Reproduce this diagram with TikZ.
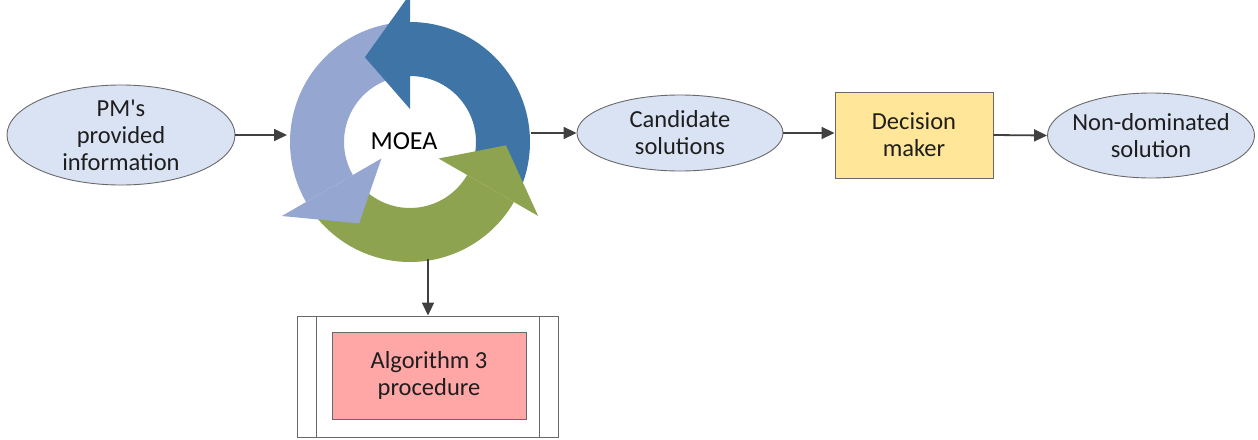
\documentclass[tikz,border=0pt]{standalone}
\usepackage{fontspec}
\setmainfont{Carlito}
\newfontfamily\aposfont{Carlito}[Ligatures=TeXOff]
\usetikzlibrary{arrows.meta,shapes.geometric,calc}
\definecolor{ovalfill}{RGB}{218,227,243}
\definecolor{edgegray}{RGB}{105,105,105}
\definecolor{linegray}{RGB}{64,64,64}
\definecolor{textgray}{RGB}{30,30,30}
\definecolor{dmfill}{RGB}{255,230,153}
\definecolor{algfill}{RGB}{255,166,166}
\definecolor{cycdark}{RGB}{62,116,166}
\definecolor{cyclight}{RGB}{149,166,209}
\definecolor{cycgreen}{RGB}{142,163,80}

\begin{document}
\begin{tikzpicture}[x=1pt,y=-1pt,
  label font/.style={font=\fontsize{24.5}{27}\selectfont, text=textgray},
  oval/.style={ellipse, draw=edgegray, line width=0.9pt, fill=ovalfill,
    inner xsep=-30pt, inner ysep=0pt, align=center, label font},
  boxnode/.style={rectangle, draw=edgegray, line width=0.9pt,
    inner sep=0pt, align=center, label font},
  conn/.style={draw=linegray, line width=1.8pt,
    -{Triangle[length=13pt,width=12pt]}}
]
\useasboundingbox (0,0) rectangle (1258,439);

% ---- cycle of three curved arrows (bodies first, heads on top)
\def\Rout{120pt}
\def\Rin{66pt}
\begin{scope}[shift={(410,142)}]
  \foreach \c/\b in {cycdark/90, cyclight/210, cycgreen/330}{
    \pgfmathsetmacro{\t}{\b-113}
    \fill[\c] (\t:\Rout) arc[start angle=\t, end angle=\b, radius=\Rout]
      -- (\b:\Rin) arc[start angle=\b, end angle=\t, radius=\Rin] -- cycle;
  }
  \foreach \c/\b in {cycdark/90, cyclight/210, cycgreen/330}{
    \pgfmathsetmacro{\h}{\b+28}
    \fill[\c] (\b:148pt) -- (\h:96pt) -- (\b:33pt) -- cycle;
  }
\end{scope}
\node[font=\fontsize{26}{30}\selectfont, text=black] (moea) at (404,141) {MOEA};

\coordinate (cycIn)  at (287,135);
\coordinate (cycOut) at (531,133);
\coordinate (cycBot) at (428,259);

% ---- flow nodes
\node[oval, minimum width=228pt, minimum height=90pt] (pm) at (121,135)
  {PM{\aposfont'}s\\provided\\information};
\node[oval, minimum width=206pt, minimum height=76pt] (cand) at (680,133)
  {Candidate\\solutions};
\node[boxnode, fill=dmfill, minimum width=158pt, minimum height=86pt] (dm) at (914,135)
  {Decision\\maker};
\node[oval, minimum width=207pt, minimum height=85pt] (nd) at (1151,135.5)
  {Non-dominated\\solution};

% ---- predefined-process box with its inner block
\node[boxnode, fill=white, minimum width=261pt, minimum height=121pt] (alg) at (427.5,376.5) {};
\draw[edgegray, line width=0.9pt]
  ($(alg.north west)+(20,0)$) -- ($(alg.south west)+(20,0)$)
  ($(alg.north east)+(-19,0)$) -- ($(alg.south east)+(-19,0)$);
\node[boxnode, fill=algfill, minimum width=194pt, minimum height=87pt] (algin) at (429,375.5)
  {Algorithm 3\\procedure};

% ---- connectors
\draw[conn] (pm.east) -- (cycIn);
\draw[conn] (cycOut) -- (cand.west);
\draw[conn] (cand.east) -- (dm.west |- cand.east);
\draw[conn] (dm.east) -- (nd.west);
\draw[conn] (cycBot) -- (cycBot |- alg.north);
\end{tikzpicture}
\end{document}
